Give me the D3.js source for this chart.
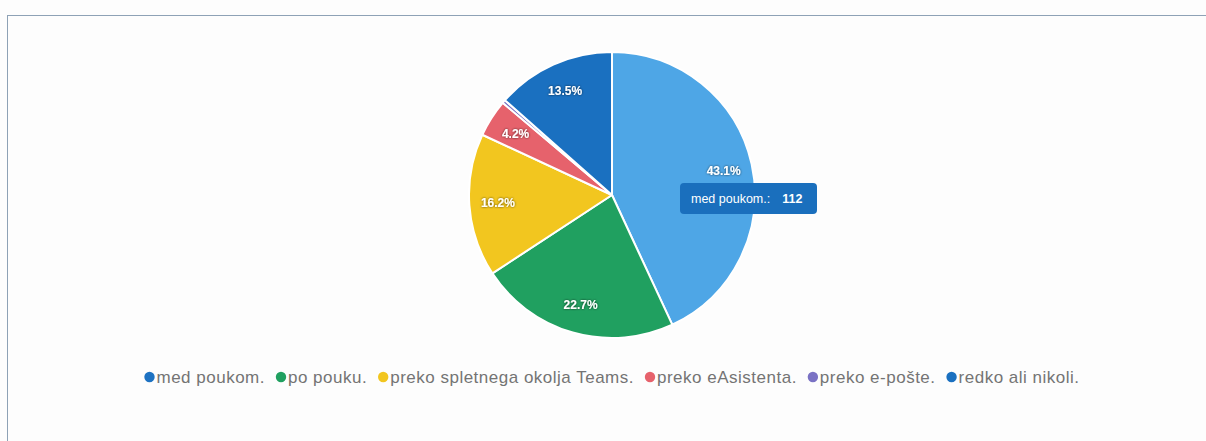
<!DOCTYPE html>
<html><head><meta charset="utf-8">
<script src="https://cdn.jsdelivr.net/npm/d3@7"></script>
<style>
html,body{margin:0;padding:0;background:#fdfdfd;}
svg{display:block;}
</style></head>
<body>
<svg id="c" width="1206" height="441"></svg>
<script>
const categories = ["med poukom.", "po pouku.", "preko spletnega okolja Teams.", "preko eAsistenta.", "preko e-pošte.", "redko ali nikoli."];
const values = [112, 59, 42, 11, 1, 35];
const sliceColors = ["#4ea6e6", "#20a060", "#f2c61f", "#e6626c", "#7a72c4", "#1a70c0"];
const legendColors = ["#1d72c2", "#20a060", "#f2c61f", "#e6626c", "#7a72c4", "#1a70c0"];
const tooltipIndex = 0;

const svg = d3.select("#c");
const W = 1206, H = 441;

// frame
svg.append("rect").attr("x", 7.5).attr("y", 15.5).attr("width", W).attr("height", H)
  .attr("fill", "#fdfdfd").attr("stroke", "#8ea2b6").attr("stroke-width", 1);

const cx = 612, cy = 195, R = 143;
const total = d3.sum(values);
const pie = d3.pie().sort(null).value(d => d)(values);
const arc = d3.arc().innerRadius(0).outerRadius(R);
const labelArc = d3.arc().innerRadius(R * 0.8).outerRadius(R * 0.8);

const defs = svg.append("defs");
const f = defs.append("filter").attr("id", "sh").attr("x", "-20%").attr("y", "-20%").attr("width", "140%").attr("height", "140%");
f.append("feDropShadow").attr("dx", 0).attr("dy", 0).attr("stdDeviation", 1).attr("flood-color", "#000").attr("flood-opacity", 0.7);

const g = svg.append("g").attr("transform", `translate(${cx},${cy})`);
g.selectAll("path").data(pie).join("path")
  .attr("d", arc)
  .attr("fill", (d, i) => sliceColors[i])
  .attr("stroke", "#fff").attr("stroke-width", 2).attr("stroke-linejoin", "round");

g.selectAll("text.lbl").data(pie.filter(d => d.value / total > 0.02)).join("text")
  .attr("class", "lbl")
  .attr("transform", d => `translate(${labelArc.centroid(d)})`)
  .attr("text-anchor", "middle").attr("dy", "0.35em")
  .attr("fill", "#fff").attr("font-family", "Liberation Sans, Arial, sans-serif")
  .attr("font-size", 12).attr("font-weight", "bold")
  .attr("filter", "url(#sh)")
  .text(d => (d.value / total * 100).toFixed(1) + "%");

// tooltip
const tt = svg.append("g").attr("transform", "translate(680,183)");
tt.append("rect").attr("width", 137).attr("height", 31).attr("rx", 4)
  .attr("fill", "#1a6fbd");
const tt1 = tt.append("text").attr("x", 11).attr("y", 20)
  .attr("font-family", "Liberation Sans, Arial, sans-serif").attr("font-size", 12.5).attr("fill", "#fff");
tt1.append("tspan").text(categories[tooltipIndex] + ":");
tt1.append("tspan").attr("dx", 12).attr("font-weight", "bold").text(values[tooltipIndex]);

// legend
const legend = svg.append("g").attr("transform", "translate(0,377)");
const fs = 17;
let x = 0;
const items = legend.selectAll("g.it").data(categories).join("g").attr("class", "it");
items.append("circle").attr("r", 5.2).attr("cy", 0).attr("fill", (d, i) => legendColors[i]);
items.append("text").attr("x", 7).attr("dy", "0.35em")
  .attr("font-family", "Liberation Sans, Arial, sans-serif").attr("font-size", fs)
  .attr("letter-spacing", 0.5)
  .attr("fill", "#747474").text(d => d);
items.each(function () {
  const w = this.querySelector("text").getBBox().width;
  d3.select(this).attr("transform", `translate(${x + 5},0)`);
  x += 7 + w + 16;
});
const total_w = x - 16 + 5;
legend.attr("transform", `translate(${612 - total_w / 2},377)`);
</script>
</body></html>
